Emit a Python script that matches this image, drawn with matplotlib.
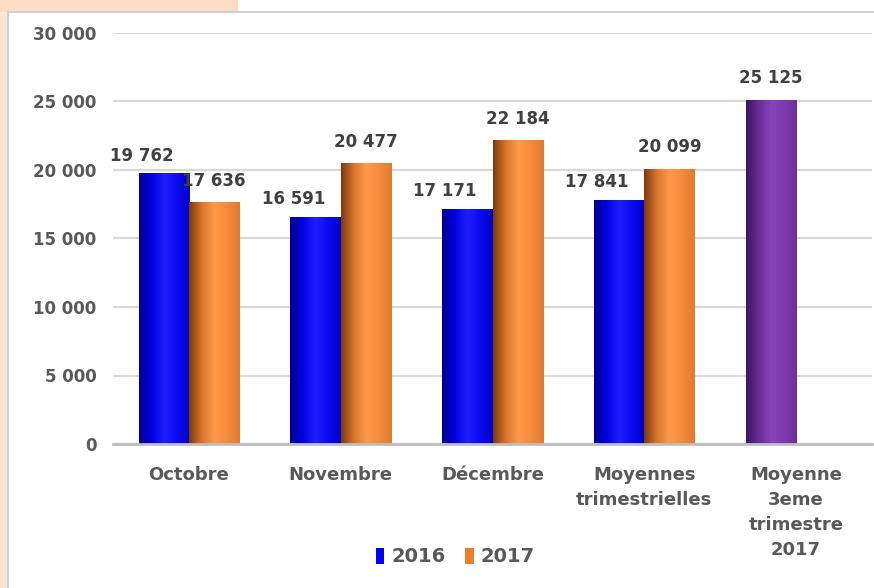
import matplotlib
matplotlib.use("Agg")
import matplotlib.pyplot as plt
import numpy as np
from matplotlib.patches import Rectangle
from matplotlib.colors import LinearSegmentedColormap
from matplotlib.ticker import FuncFormatter

categories = ["Octobre", "Novembre", "Décembre", "Moyennes\ntrimestrielles", "Moyenne\n3eme\ntrimestre\n2017"]
values_2016 = [19762, 16591, 17171, 17841]
values_2017 = [17636, 20477, 22184, 20099]
value_q3_2017 = [25125]
yticks = [0, 5000, 10000, 15000, 20000, 25000, 30000]

plt.rcParams['font.family'] = ['DejaVu Sans']
TXT = '#404040'
TICK = '#595959'

fig = plt.figure(figsize=(8.74, 5.88), dpi=100)
fig.patch.set_facecolor('white')
# peach page background
fig.patches.append(Rectangle((0, 1 - 12/588), 238/874, 12/588, transform=fig.transFigure,
                             facecolor='#FDDCC3', edgecolor='none', zorder=0))
fig.patches.append(Rectangle((0, 0), 8/874, 1 - 12/588, transform=fig.transFigure,
                             facecolor='#FDE6D4', edgecolor='none', zorder=0))
# chart frame border
fig.patches.append(Rectangle((8/874, -0.01), 1.0, 1 - 12/588 + 0.01, transform=fig.transFigure,
                             facecolor='none', edgecolor='#D0D0D0', linewidth=1.5, zorder=1))

ax = fig.add_axes([113/874, 1 - 444/588, (872-113)/874, (444-33)/588])
ax.set_facecolor('none')

w = 50/151
x = np.arange(len(categories))

cm_blue = LinearSegmentedColormap.from_list('b', ['#00008A', '#0000E0', '#1E1EFF', '#0A0AF0', '#0000C8'])
cm_orange = LinearSegmentedColormap.from_list('o', ['#7A3A10', '#D8742E', '#FF9A4A', '#F58A3C', '#E07A30'])
cm_purple = LinearSegmentedColormap.from_list('p', ['#3E1560', '#6A2C95', '#8A42BA', '#7E3AAE', '#6E2F9E'])
grad = np.linspace(0, 1, 256).reshape(1, -1)

def gradient_bars(bars, cmap):
    for b in bars:
        b.set_facecolor('none')
        b.set_edgecolor('none')
        x0, y0 = b.get_x(), b.get_y()
        im = ax.imshow(grad, cmap=cmap, aspect='auto',
                       extent=[x0, x0 + b.get_width(), y0, y0 + b.get_height()],
                       zorder=3, interpolation='bicubic')
        im.set_clip_path(b)

b16 = ax.bar(x[:4] - w/2, values_2016, w, color='#0000FF', zorder=3, label='2016')
b17 = ax.bar(x[:4] + w/2, values_2017, w, color='#ED7D31', zorder=3, label='2017')
bq = ax.bar(x[4:] - w/2, value_q3_2017, w, color='#7030A0', zorder=3)
gradient_bars(b16, cm_blue)
gradient_bars(b17, cm_orange)
gradient_bars(bq, cm_purple)
ax.set_xlim(-0.5, 4.5)
ax.set_ylim(0, 30000)

fmt = lambda v: f"{int(v):,}".replace(",", " ")
LBL = 12
for b, v in zip(b16, values_2016):
    ax.annotate(fmt(v), (b.get_x() + b.get_width()/2, v), xytext=(-16, 6),
                textcoords='offset points', ha='center', va='bottom',
                fontsize=LBL, fontweight='bold', color=TXT, zorder=5)
for b, v in zip(b17, values_2017):
    ax.annotate(fmt(v), (b.get_x() + b.get_width()/2, v), xytext=(0, 9),
                textcoords='offset points', ha='center', va='bottom',
                fontsize=LBL, fontweight='bold', color=TXT, zorder=5)
for b, v in zip(bq, value_q3_2017):
    ax.annotate(fmt(v), (b.get_x() + b.get_width()/2, v), xytext=(0, 9),
                textcoords='offset points', ha='center', va='bottom',
                fontsize=LBL, fontweight='bold', color=TXT, zorder=5)

ax.set_yticks(yticks)
ax.yaxis.set_major_formatter(FuncFormatter(lambda v, p: fmt(v)))
ax.set_xticks(x)
ax.set_xticklabels(categories, linespacing=1.5)
ax.tick_params(axis='y', length=0, labelsize=12, labelcolor=TICK, pad=12)
ax.tick_params(axis='x', length=0, labelsize=13, labelcolor=TICK, pad=16)
for lab in ax.get_xticklabels() + ax.get_yticklabels():
    lab.set_fontweight('bold')
ax.grid(axis='y', color='#D9D9D9', linewidth=1.6, zorder=0)
for s in ['top', 'right', 'left']:
    ax.spines[s].set_visible(False)
ax.spines['bottom'].set_color('#BFBFBF')
ax.spines['bottom'].set_linewidth(2)
ax.spines['bottom'].set_zorder(4)

handles = [Rectangle((0, 0), 1, 1, facecolor='#0000FF'), Rectangle((0, 0), 1, 1, facecolor='#ED7D31')]
leg = fig.legend(handles, ['2016', '2017'], loc='center', bbox_to_anchor=(455/874, 1 - 557/588),
                 ncol=2, frameon=False, handlelength=0.45, handleheight=0.85, handletextpad=0.35,
                 columnspacing=1.0, prop={'size': 14, 'weight': 'bold'})
for t in leg.get_texts():
    t.set_color(TICK)

fig.savefig('out.png', dpi=100)
